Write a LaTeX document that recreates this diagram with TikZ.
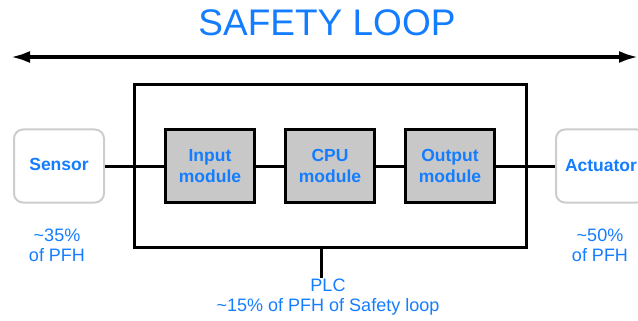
\documentclass[tikz,border=0pt]{standalone}
\usepackage{fontspec}
\setmainfont{Liberation Sans}
\usetikzlibrary{arrows.meta}
\definecolor{tblue}{RGB}{20,125,255}
\definecolor{boxgray}{RGB}{200,200,200}
\definecolor{edgegray}{RGB}{205,205,205}
\begin{document}
\begin{tikzpicture}[x=1pt,y=-1pt,
  lbl/.style={text=tblue,font=\fontsize{18}{20}\selectfont,align=center,inner sep=0pt},
  modbox/.style={draw=black,line width=3pt,fill=boxgray,minimum width=89pt,minimum height=72pt,inner sep=0pt,text=tblue,font=\bfseries\fontsize{17.5}{21}\selectfont,align=center},
  devbox/.style={draw=edgegray,line width=2pt,rounded corners=9pt,fill=white,minimum width=90pt,minimum height=73pt,inner sep=0pt,text=tblue,font=\bfseries\fontsize{17.5}{21}\selectfont},
  wire/.style={line width=3pt},
  looparrow/.style={line width=4pt,{Latex[length=20pt,width=12pt]}-{Latex[length=20pt,width=12pt]}}]
\useasboundingbox (0,0) rectangle (638,321);

% title and loop arrow
\node[text=tblue,font=\fontsize{37}{40}\selectfont,inner sep=0pt] (title) at (327,23) {SAFETY LOOP};
\coordinate (la) at (10,57);
\coordinate (ra) at (639,57);
\draw[looparrow] (la) -- (ra);

% PLC box
\node[draw=black,line width=3pt,minimum width=392pt,minimum height=163pt,inner sep=0pt] (plc) at (330.5,166) {};

% devices and modules
\node[devbox] (sensor) at (59,166) {\raisebox{4pt}{Sensor}};
\node[devbox] (actuator) at (601,166) {\raisebox{2pt}{Actuator}};
\node[modbox] (input) at (210,166) {Input\\module};
\node[modbox] (cpu) at (330,166) {CPU\\module};
\node[modbox] (output) at (450,166) {Output\\module};

% wires
\draw[wire] (sensor.east) -- (input.west);
\draw[wire] (input.east) -- (cpu.west);
\draw[wire] (cpu.east) -- (output.west);
\draw[wire] (output.east) -- (actuator.west);

% PLC lead
\coordinate (plcend) at (321,278);
\draw[wire] (plcend |- plc.south) -- (plcend);

% labels
\node[lbl] (sensorpfh) at (57,245) {\textasciitilde35\%\\of PFH};
\node[lbl] (actpfh) at (600,245) {\textasciitilde50\%\\of PFH};
\node[lbl] (plclbl) at (328,297) {PLC\\\textasciitilde15\% of PFH of Safety loop};
\end{tikzpicture}
\end{document}
